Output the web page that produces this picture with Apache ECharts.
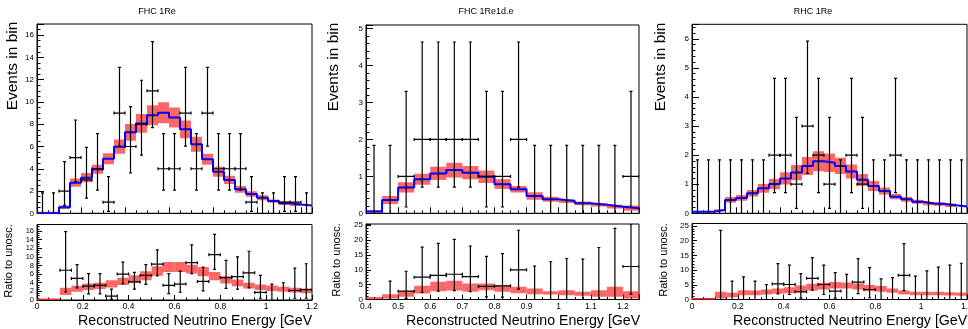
<!DOCTYPE html>
<html><head><meta charset="utf-8">
<script src="https://cdn.jsdelivr.net/npm/echarts@6/dist/echarts.min.js"></script>
<style>html,body{margin:0;padding:0;background:#fff}#c{width:968px;height:329px}</style>
</head><body><div id="c"></div>
<script>
// ---------------- data ----------------
// bin edges (GeV)
const edgesFull = [0,0.05,0.1,0.15,0.2,0.25,0.3,0.35,0.4,0.45,0.5,0.55,0.6,0.65,0.7,0.75,0.8,0.85,0.9,0.95,1.0,1.05,1.1,1.15,1.2,1.25];
const edgesHigh = [0.4,0.45,0.5,0.55,0.6,0.65,0.7,0.75,0.8,0.85,0.9,0.95,1.0,1.05,1.1,1.15,1.2,1.25];

// panel titles
const titles = ['FHC 1Re', 'FHC 1Re1d.e', 'RHC 1Re'];

// FHC 1Re: predicted events, band half-width, observed counts
const t1Pred = [0,0,0.54,2.75,3.2,3.95,4.9,5.98,7.27,8.07,8.8,9.03,8.6,7.54,6.2,4.85,3.74,3.0,2.15,1.73,1.4,1.1,0.9,0.78,0.69];
const t1Err  = [0,0,0.15,0.37,0.42,0.4,0.5,0.64,0.75,0.84,0.9,0.95,0.9,0.8,0.67,0.5,0.45,0.37,0.31,0.25,0.22,0.15,0.15,0.13,0];
const t1Data = [0,0,2,5,3,4,1,9,6,8,11,4,4,9,4,9,4,4,4,1,0,0,1,1,0];

// FHC 1Re1d.e
const t2Pred = [0.05,0.36,0.7,0.92,1.08,1.17,1.1,0.99,0.79,0.65,0.47,0.38,0.33,0.27,0.23,0.18,0.14];
const t2Err  = [0.03,0.11,0.14,0.15,0.18,0.2,0.18,0.17,0.13,0.09,0.1,0.07,0.05,0.05,0.045,0.05,0.07];
const t2Data = [0,0,1,2,2,2,2,1,1,2,0,0,0,0,0,0,1];

// RHC 1Re
const t3Pred = [0.05,0.05,0.11,0.46,0.53,0.69,0.86,1.01,1.2,1.4,1.63,1.79,1.74,1.63,1.44,1.15,0.94,0.77,0.57,0.48,0.4,0.34,0.32,0.28,0.23];
const t3Err  = [0,0,0.03,0.1,0.1,0.11,0.15,0.18,0.21,0.26,0.31,0.34,0.32,0.28,0.24,0.2,0.17,0.12,0.09,0.08,0.07,0.06,0.06,0.06,0];
const t3Data = [0,0,0,0,0,0,0,2,2,1,3,2,1,0,2,1,0,0,2,0,0,0,0,0,0];

// Poisson (Garwood) error table: count -> [down, up]
const poissonErr = {0:[0,1.84],1:[0.83,2.30],2:[1.29,2.64],3:[1.63,2.92],4:[1.91,3.16],5:[2.16,3.38],6:[2.38,3.58],7:[2.58,3.77],8:[2.77,3.95],9:[2.96,4.11],10:[3.11,4.27],11:[3.30,4.41]};

// Ratio to unoscillated: band centre / half-width, data ratio with upper/lower ends
const b1Band    = [0,0,1.99,2.6,3.06,3.26,3.75,4.29,4.86,5.63,6.7,7.66,7.66,7.16,6.59,5.55,4.67,3.98,3.33,2.95,2.72,2.49,2.3,2.11];
const b1BandErr = [0,0,0.84,0.69,0.77,0.73,0.84,0.84,0.88,1.03,1.1,1.15,1.15,1.03,1.07,0.96,0.84,0.77,0.65,0.65,0.65,0.57,0.54,0.57];
const b1Ratio   = [null,null,6.9,5.0,3.2,3.4,0.9,6.0,4.2,5.7,8.3,3.4,3.7,8.65,4.3,10.5,5.2,5.4,6.3,1.76,0,0,2.2,2.4];
const b1Hi      = [null,null,15.85,8.2,6.1,6.1,2.5,8.8,6.4,8.2,11.6,6.1,6.7,12.8,7.65,15.2,9.2,10,11.3,5.7,3.7,4.0,7.4,8.4];
const b1Lo      = [null,null,1.9,2.8,1.4,1.4,0.2,3.8,2.5,3.6,5.6,1.5,1.8,6.1,2.1,7.1,2.7,2.5,2.8,0.4,0,0,0.4,0.4];

const b2Band    = [0.4,1.07,1.85,3.31,4.37,4.65,4.0,4.26,3.7,3.2,2.75,2.24,2.3,1.9,2.02,2.58,1.57];
const b2BandErr = [0.4,0.73,0.95,1.29,1.57,1.63,1.4,1.12,1.12,1.12,0.95,0.56,0.84,0.67,1.12,1.68,1.23];
const b2Ratio   = [null,0,2.8,7.5,8.1,8.5,7.7,4.4,4.6,10.0,0,0,0,0,0,0,11.1];
const b2Hi      = [null,6.2,9.5,17.6,18.9,20.2,18.0,14.5,15.4,23.3,11.2,12.7,13.8,13.6,17.5,23.9,25.4];
const b2Lo      = [null,0,0.35,2.35,2.8,3.0,2.6,0.9,0.8,3.5,0,0,0,0,0,0,1.8];

const b3Band    = [0,0,1.48,1.53,2.27,2.27,2.56,2.84,3.18,3.69,4.2,4.55,4.83,4.77,4.43,3.86,3.58,3.01,2.39,2.05,2.05,2.05,1.93,1.82];
const b3BandErr = [0,0,1.14,0.74,0.85,0.8,0.85,0.91,1.02,1.08,1.14,1.14,1.08,1.02,1.02,1.02,0.97,0.74,0.68,0.57,0.57,0.57,0.57,0.57];
const b3Ratio   = [null,null,0,0,0,0,0,5.3,5.1,2.6,7.2,5.1,2.85,0,5.9,3.4,0,0,8.2,0,0,0,0,0];
const b3Hi      = [null,null,23.5,6.25,7.7,6.25,5.1,12.2,11.7,8.75,14.2,11.7,9.1,8.5,13.9,10.8,7.0,7.4,19,7.95,9.7,11.0,11.7,12.3];
const b3Lo      = [null,null,0,0,0,0,0,1.9,1.7,0.45,3.2,1.7,0.45,0,2.0,0.6,0,0,3.0,0,0,0,0,0];

// axis titles
const yTitleTop = 'Events in bin';
const yTitleBot = 'Ratio to unosc.';
const xTitle = 'Reconstructed Neutrino Energy [GeV';

// ---------------- helpers ----------------
const FONT = '"Liberation Sans", Arial, Helvetica, sans-serif';
const BAND = 'rgba(255,0,0,0.6)';

function stepData(edges, vals) {
  const d = vals.map((v, i) => [edges[i], v]);
  d.push([edges[vals.length], vals[vals.length - 1]]);
  return d;
}
function bandData(edges, c, e) {
  return c.map((v, i) => [edges[i], edges[i + 1], v, e[i]]);
}
function countPoints(edges, counts) {
  return counts.map((n, i) => [(edges[i] + edges[i + 1]) / 2, edges[i], edges[i + 1], n,
    n - poissonErr[n][0], n + poissonErr[n][1]]);
}
function ratioPoints(edges, r, hi, lo) {
  const out = [];
  r.forEach((v, i) => { if (v !== null) out.push([(edges[i] + edges[i + 1]) / 2, edges[i], edges[i + 1], v, lo[i], hi[i]]); });
  return out;
}
function renderBand(params, api) {
  const x0 = api.value(0), x1 = api.value(1), c = api.value(2), h = api.value(3);
  if (h <= 0) {
    if (c === 0) {
      const a = api.coord([x0, 0]), b = api.coord([x1, 0]);
      return {type: 'line', shape: {x1: a[0], y1: a[1] - 0.5, x2: b[0], y2: b[1] - 0.5}, style: {stroke: '#ff3030', lineWidth: 2}};
    }
    return null;
  }
  const p0 = api.coord([x0, c + h]), p1 = api.coord([x1, Math.max(0, c - h)]);
  return {type: 'rect', shape: {x: p0[0], y: p0[1], width: p1[0] - p0[0], height: p1[1] - p0[1]}, style: {fill: BAND}};
}
function renderErr(params, api) {
  const xc = api.value(0), xl = api.value(1), xh = api.value(2), y = api.value(3), lo = api.value(4), hi = api.value(5);
  const st = {stroke: '#000', lineWidth: 1.2};
  const pt = api.coord([xc, hi]), pb = api.coord([xc, lo]);
  const ch = [
    {type: 'line', shape: {x1: pt[0], y1: pt[1], x2: pb[0], y2: pb[1]}, style: st},
    {type: 'line', shape: {x1: pt[0] - 1.5, y1: pt[1], x2: pt[0] + 1.5, y2: pt[1]}, style: st}
  ];
  if (y > 0) {
    const pl = api.coord([xl, y]), pr = api.coord([xh, y]);
    ch.push({type: 'line', shape: {x1: pl[0], y1: pl[1], x2: pr[0], y2: pr[1]}, style: st});
    ch.push({type: 'line', shape: {x1: pl[0], y1: pl[1] - 1.5, x2: pl[0], y2: pl[1] + 1.5}, style: st});
    ch.push({type: 'line', shape: {x1: pr[0], y1: pr[1] - 1.5, x2: pr[0], y2: pr[1] + 1.5}, style: st});
    ch.push({type: 'line', shape: {x1: pb[0] - 1.5, y1: pb[1], x2: pb[0] + 1.5, y2: pb[1]}, style: st});
  }
  return {type: 'group', children: ch};
}

const grids = [
  {left: 37,  top: 24,    width: 275, height: 189.3},
  {left: 37,  top: 224.5, width: 275, height: 75.5},
  {left: 366, top: 25,    width: 273, height: 188.3},
  {left: 366, top: 224,   width: 273, height: 75.5},
  {left: 692, top: 24.3,  width: 275, height: 189},
  {left: 692, top: 223.5, width: 275, height: 76}
].map(g => Object.assign({show: true, borderColor: '#000', borderWidth: 1, backgroundColor: 'transparent', containLabel: false, outerBoundsMode: 'none'}, g));

function xAx(gi, min, max, interval, minorSplit, labels, showMax) {
  return {
    type: 'value', gridIndex: gi, min, max, interval,
    axisLine: {show: true, onZero: false, lineStyle: {color: '#000', width: 1}},
    axisTick: {show: true, inside: true, length: labels ? 5 : 6, lineStyle: {color: '#000'}},
    minorTick: {show: true, splitNumber: minorSplit, length: labels ? 2.5 : 3, lineStyle: {color: '#000'}},
    splitLine: {show: false}, minorSplitLine: {show: false},
    axisLabel: {show: labels, color: '#000', fontSize: 8.5, fontFamily: FONT, margin: 2.5, hideOverlap: false, showMinLabel: true, showMaxLabel: showMax}
  };
}
function yAx(gi, max, interval, minorSplit, fs, tickLen) {
  return {
    type: 'value', gridIndex: gi, min: 0, max, interval,
    axisLine: {show: true, onZero: false, lineStyle: {color: '#000', width: 1}},
    axisTick: {show: true, inside: true, length: tickLen, lineStyle: {color: '#000'}},
    minorTick: {show: true, splitNumber: minorSplit, length: tickLen / 2, lineStyle: {color: '#000'}},
    splitLine: {show: false}, minorSplitLine: {show: false},
    axisLabel: {show: true, color: '#000', fontSize: fs, fontFamily: FONT, margin: 3, hideOverlap: false, showMinLabel: true, showMaxLabel: false}
  };
}

const xAxes = [
  xAx(0, 0, 1.25, 0.2, 4, false, false),
  xAx(1, 0, 1.2, 0.2, 4, true, true),
  xAx(2, 0.4, 1.25, 0.1, 4, false, false),
  xAx(3, 0.4, 1.25, 0.1, 4, true, false),
  xAx(4, 0, 1.25, 0.2, 4, false, false),
  xAx(5, 0, 1.2, 0.2, 4, true, true)
];
const yAxes = [
  yAx(0, 17, 2, 4, 8, 7),
  yAx(1, 17.5, 2, 4, 7.5, 5),
  yAx(2, 5.1, 1, 5, 8, 7),
  yAx(3, 25.4, 5, 5, 8, 5),
  yAx(4, 6.5, 1, 5, 8, 7),
  yAx(5, 25.8, 5, 5, 8, 5)
];

const series = [];
function addTop(gi, edges, pred, err, counts) {
  series.push({type: 'custom', xAxisIndex: gi, yAxisIndex: gi, clip: true, renderItem: renderBand, data: bandData(edges, pred, err), z: 2});
  series.push({type: 'line', xAxisIndex: gi, yAxisIndex: gi, step: 'end', symbol: 'none', showSymbol: false, clip: true,
    lineStyle: {color: '#0000ff', width: 2}, data: stepData(edges, pred), z: 3});
  series.push({type: 'custom', xAxisIndex: gi, yAxisIndex: gi, clip: true, renderItem: renderErr, data: countPoints(edges, counts), z: 4});
}
function addBot(gi, edges, band, bandErr, r, hi, lo) {
  series.push({type: 'custom', xAxisIndex: gi, yAxisIndex: gi, clip: true, renderItem: renderBand, data: bandData(edges, band, bandErr), z: 2});
  series.push({type: 'custom', xAxisIndex: gi, yAxisIndex: gi, clip: true, renderItem: renderErr, data: ratioPoints(edges, r, hi, lo), z: 4});
}
addTop(0, edgesFull, t1Pred, t1Err, t1Data);
addBot(1, edgesFull, b1Band, b1BandErr, b1Ratio, b1Hi, b1Lo);
addTop(2, edgesHigh, t2Pred, t2Err, t2Data);
addBot(3, edgesHigh, b2Band, b2BandErr, b2Ratio, b2Hi, b2Lo);
addTop(4, edgesFull, t3Pred, t3Err, t3Data);
addBot(5, edgesFull, b3Band, b3BandErr, b3Ratio, b3Hi, b3Lo);

function txt(x, y, text, size, rot, align) {
  return {type: 'text', x, y, rotation: rot || 0, z: 10,
    style: {text, fill: '#000', fontSize: size, fontFamily: FONT, align: align || 'center', verticalAlign: 'middle'}};
}
const R = Math.PI / 2;
const graphic = [
  txt(157, 11.5, titles[0], 9), txt(486, 11.5, titles[1], 9), txt(813, 11.5, titles[2], 9),
  txt(13, 66, yTitleTop, 15.5, R), txt(334, 67, yTitleTop, 15.5, R), txt(661, 67, yTitleTop, 15.5, R),
  txt(8.7, 261, yTitleBot, 11, R), txt(336.5, 260, yTitleBot, 11, R), txt(663.5, 260, yTitleBot, 11, R),
  txt(78, 321.5, xTitle, 14.2, 0, 'left'), txt(406, 321.5, xTitle, 14.2, 0, 'left'), txt(733, 321.5, xTitle, 14.2, 0, 'left')
];

const chart = echarts.init(document.getElementById('c'), null, {renderer: 'canvas'});
chart.setOption({
  animation: false,
  backgroundColor: '#fff',
  grid: grids,
  xAxis: xAxes,
  yAxis: yAxes,
  series,
  graphic
});
</script></body></html>
